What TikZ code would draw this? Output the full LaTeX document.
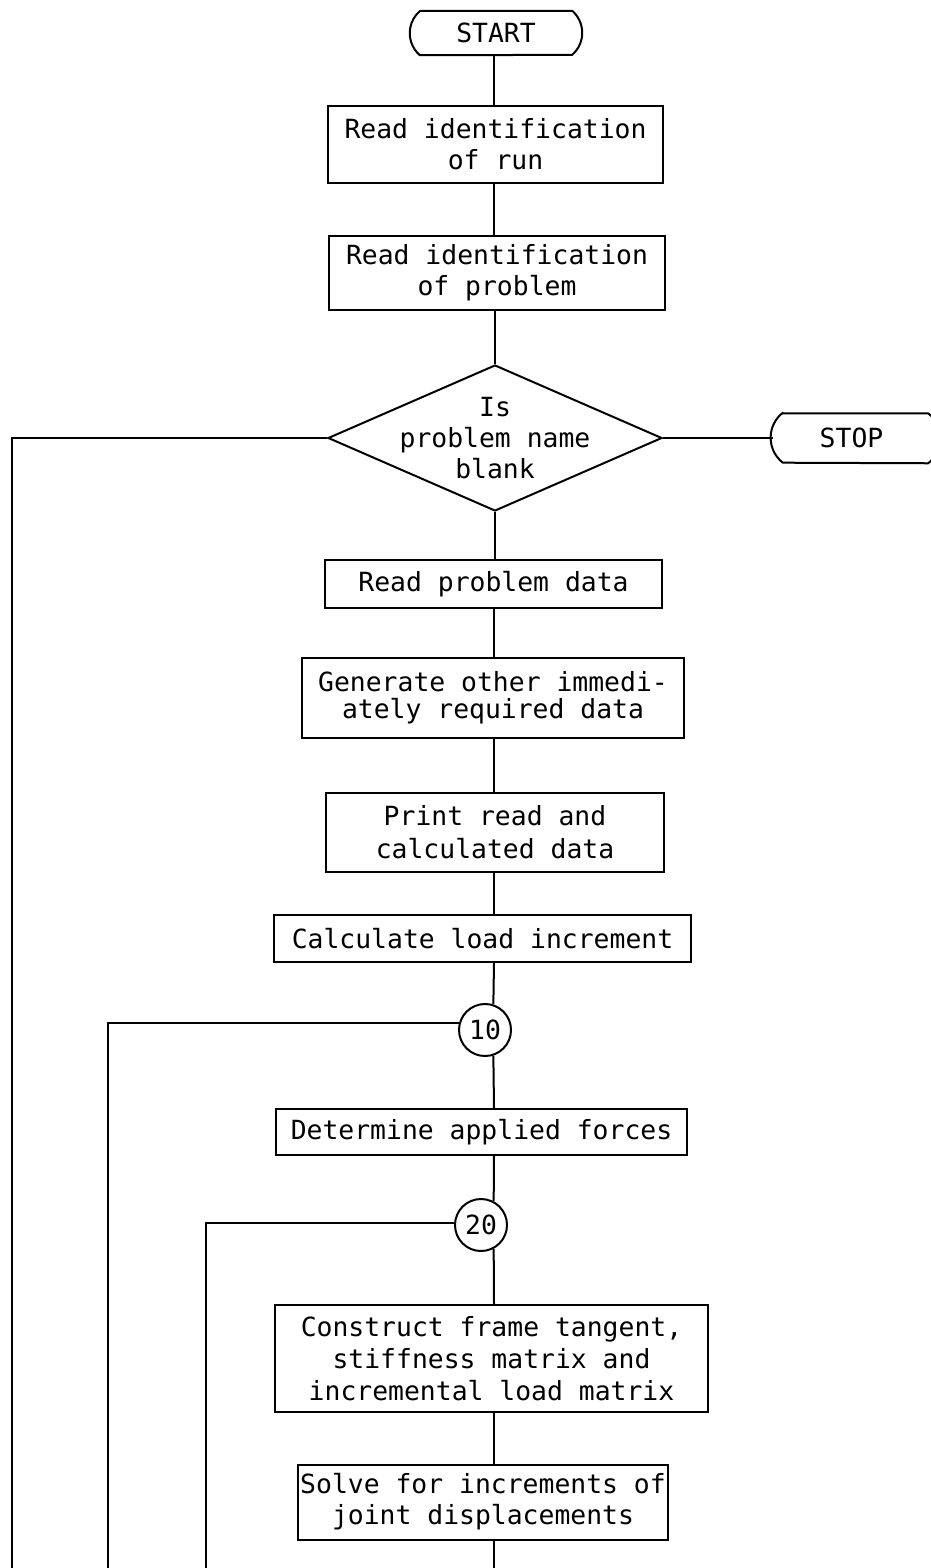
\documentclass[tikz,border=0pt]{standalone}
\usepackage{fontspec}
\newfontfamily\tw{DejaVu Sans Mono}
\usetikzlibrary{shapes.geometric,calc}
\begin{document}
\begin{tikzpicture}[x=1pt,y=1pt,
  every node/.style={font=\tw\fontsize{26.4}{31}\selectfont},
  proc/.style={draw, line width=2pt, rectangle, inner sep=0pt, align=center},
  flow/.style={line width=2pt},
  conn/.style={draw, circle, line width=2pt, minimum size=52pt, inner sep=0pt},
  term/.style={inner sep=0pt}]
\useasboundingbox (0,0) rectangle (930,-1568);
\coordinate (M) at (494,0);
\coordinate (bot) at (494,-1568);
\coordinate (L) at (12,-1568);
\coordinate (L10) at (108,-1568);
\coordinate (L20) at (206,-1568);

\node[term, minimum width=172pt, minimum height=44pt] (start) at (496,-33) {START};
\node[proc, minimum width=335pt, minimum height=77pt] (run) at (495.5,-144.5) {Read identification\\of run};
\node[proc, minimum width=336pt, minimum height=74pt] (prob) at (497,-273) {Read identification\\of problem};
\node[draw, diamond, line width=2pt, minimum width=334pt, minimum height=146pt, inner sep=0pt] (dia) at (495,-438) {};
\node[align=center, inner sep=0pt] (diat) at (495,-438) {Is\\problem name\\blank};
\node[term, minimum width=165pt, minimum height=49pt] (stop) at (855.5,-438) {STOP\hspace*{8pt}};
\node[proc, minimum width=337pt, minimum height=48pt] (rpd) at (493.5,-584) {Read problem data};
\node[proc, minimum width=382pt, minimum height=80pt, font=\tw\fontsize{26.4}{27}\selectfont] (gen) at (493,-698) {Generate other immedi-\\ately required data};
\node[proc, minimum width=338pt, minimum height=79pt, font=\tw\fontsize{26.4}{33}\selectfont] (prt) at (495,-832.5) {Print read and\\calculated data};
\node[proc, minimum width=417pt, minimum height=47pt] (calc) at (482.5,-938.5) {Calculate load increment};
\node[conn] (c10) at (485,-1030) {10};
\node[proc, minimum width=411pt, minimum height=46pt] (det) at (481.5,-1132) {Determine applied forces};
\node[conn] (c20) at (481,-1225) {20};
\node[proc, minimum width=433pt, minimum height=107pt, font=\tw\fontsize{26.4}{32}\selectfont] (con) at (491.5,-1358.5) {Construct frame tangent,\\stiffness matrix and\\incremental load matrix};
\node[proc, minimum width=370pt, minimum height=75pt] (sol) at (483,-1502) {Solve for increments of\\joint displacements};

\draw[flow, line join=round] ([xshift=10pt]start.north west) -- ([xshift=-10pt]start.north east)
    arc[start angle=49, end angle=-49, radius=29.2]
    -- ([xshift=10pt]start.south west)
    arc[start angle=229, end angle=131, radius=29.2] -- cycle;
\draw[flow, line join=round] ([xshift=10pt]stop.north west) -- ([xshift=-10pt]stop.north east)
    arc[start angle=52, end angle=-52, radius=31.7]
    -- ([xshift=10pt]stop.south west)
    arc[start angle=232, end angle=128, radius=31.7] -- cycle;

\draw[flow] (start.south -| M) -- (run.north -| M);
\draw[flow] (run.south -| M) -- (prob.north -| M);
\draw[flow] (prob.south -| dia.north) -- (dia.north);
\draw[flow] (dia.south) -- (rpd.north -| dia.south);
\draw[flow] (dia.east) -- (stop.west);
\draw[flow] (dia.west) -| (L);
\draw[flow] (rpd.south -| M) -- (gen.north -| M);
\draw[flow] (gen.south -| M) -- (prt.north -| M);
\draw[flow] (prt.south -| M) -- (calc.north -| M);
\draw[flow] (calc.south -| M) -- (c10.72);
\draw[flow] (c10.-72) -- (det.north -| M);
\draw[flow] (c10.164) -| (L10);
\draw[flow] (det.south -| M) -- (c20.62);
\draw[flow] (c20.-62) -- (con.north -| M);
\draw[flow] (c20.176) -| (L20);
\draw[flow] (con.south -| M) -- (sol.north -| M);
\draw[flow] (sol.south -| M) -- (bot);
\end{tikzpicture}
\end{document}
